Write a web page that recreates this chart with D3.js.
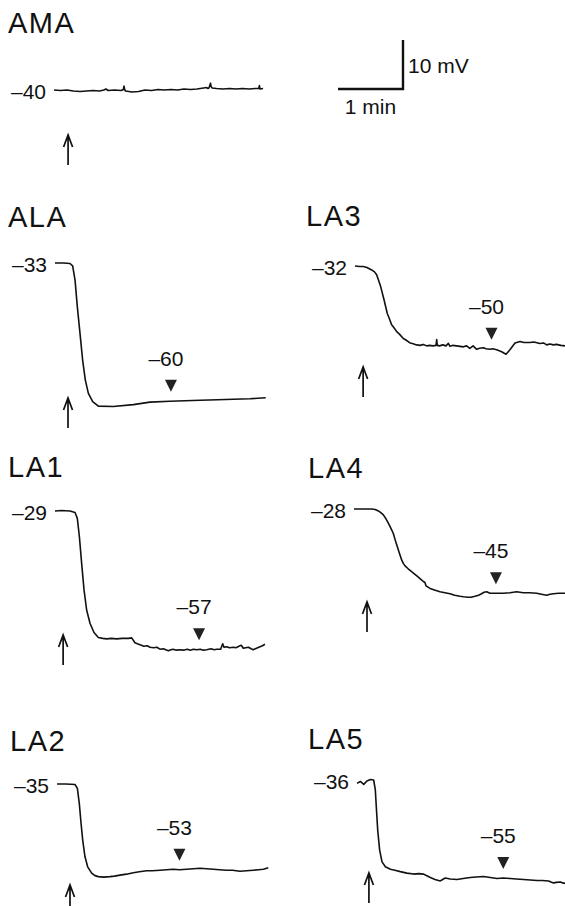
<!DOCTYPE html>
<html>
<head>
<meta charset="utf-8">
<script src="https://cdn.jsdelivr.net/npm/d3@7"></script>
<style>
  body { margin: 0; background: #fff; }
  svg { display: block; }
  text { font-family: "Liberation Sans", Arial, Helvetica, sans-serif; fill: #111; }
  .title { font-size: 29px; letter-spacing: 1.5px; }
  .val { font-size: 21px; }
  .trace { fill: none; stroke: #111; stroke-width: 1.6; stroke-linejoin: round; }
</style>
</head>
<body>
<svg id="chart" width="565" height="906"></svg>
<script>
// recordings: membrane potential (mV) vs time (s) after amino acid application
const panelNames = ['AMA', 'ALA', 'LA3', 'LA1', 'LA4', 'LA2', 'LA5'];
const restValues = [-40, -33, -32, -29, -28, -35, -36]; // resting potential labels
const peakValues = [null, -60, -50, -57, -45, -53, -55]; // labels over the triangles
const peakTimes = [null, 107, 126, 133, 131, 113, 135]; // s, where the triangle sits
const stimTimes = [13, 12, 7.5, 7.5, 12, 12, 11]; // s, arrow = application

const traceAMA = [[0,-40.0],[6,-40.1],[12,-40.0],[18,-40.2],[24,-40.3],[30,-40.2],[36,-40.1],[42,-40.2],[46,-40.0],[48,-39.8],[50,-40.1],[56,-40.0],[62,-40.1],[64,-39.9],[64.6,-39.2],[65.2,-39.9],[66,-40.2],[72,-40.4],[78,-40.3],[84,-40.0],[90,-40.1],[96,-39.9],[102,-40.0],[108,-39.9],[114,-40.0],[120,-39.8],[126,-39.9],[132,-39.8],[138,-39.6],[141,-39.5],[142,-39.7],[143,-39.6],[144.5,-38.6],[145,-39.3],[146,-39.6],[150,-39.7],[156,-39.8],[162,-39.7],[168,-39.8],[174,-39.7],[180,-39.8],[186,-39.7],[189,-39.7],[189.6,-39.1],[190.2,-39.8],[193,-39.7]];
const traceALA = [[0,-33.0],[8,-33.0],[13.8,-33.1],[16.3,-33.6],[18.5,-36.5],[20.6,-41.9],[23.1,-47.4],[25.5,-52.8],[28,-56.9],[30.8,-59.6],[34.8,-61.3],[40,-62.2],[53.8,-62.3],[72.3,-61.9],[87.7,-61.4],[106,-61.2],[120,-61.1],[134,-61.0],[150,-60.9],[164.6,-60.8],[180,-60.7],[194.5,-60.5]];
const traceLA3 = [[0,-32.0],[4,-32.1],[7.7,-32.1],[11,-32.3],[15.4,-32.8],[18,-33.2],[20,-33.8],[23.7,-36.2],[26.8,-38.9],[29.8,-41.7],[31.5,-42.6],[33.8,-44.0],[36,-44.6],[38.5,-45.4],[41,-45.9],[44.6,-46.8],[47,-47.1],[50.8,-47.7],[53,-47.8],[56.9,-48.1],[60,-48.2],[63,-48.0],[66.2,-48.3],[69,-48.2],[72,-48.3],[74.8,-48.2],[75.4,-47.0],[76,-48.2],[78,-48.3],[81,-48.1],[84,-48.3],[86.2,-47.8],[87.7,-48.4],[90,-48.2],[93.8,-48.3],[97,-48.4],[100,-48.5],[103,-48.3],[106,-48.8],[109,-48.3],[112.3,-49.0],[115,-48.8],[118.5,-48.7],[121,-48.9],[124.6,-49.0],[127,-48.9],[130.8,-49.1],[135.4,-49.5],[139.4,-50.0],[143,-49.1],[147.7,-47.7],[152.3,-47.4],[156,-47.6],[161.5,-47.6],[165,-47.5],[170.8,-47.8],[174,-47.7],[176.9,-48.1],[180,-47.9],[183,-48.1],[186,-48.0],[190,-48.2],[193.8,-48.3]];
const traceLA1 = [[0,-29.0],[6,-28.9],[13.8,-29.0],[18.5,-29.3],[20.6,-30.5],[22.5,-34.2],[24.6,-39.7],[26.8,-45.1],[29.2,-49.2],[32.3,-51.9],[36,-53.8],[40,-54.8],[44,-55.0],[47.7,-55.1],[52,-55.0],[56.9,-55.1],[62,-55.0],[67.7,-55.0],[70.8,-54.9],[73.8,-55.9],[76,-56.1],[78.5,-56.3],[82,-56.6],[85,-56.5],[87.7,-56.8],[91,-56.9],[94,-56.8],[96.9,-57.2],[100,-57.1],[104.6,-57.5],[107,-57.3],[109,-57.2],[112,-57.4],[115,-57.3],[118.5,-57.4],[122,-57.2],[125,-57.4],[127.7,-57.2],[131,-57.3],[134,-57.2],[137,-57.4],[140,-57.3],[144,-57.1],[147,-57.3],[149.2,-57.2],[152.9,-57.2],[154.8,-56.1],[156,-56.8],[158.5,-56.7],[161,-56.9],[164.6,-56.8],[167,-56.9],[170.8,-56.5],[172,-56.4],[173.8,-57.0],[176,-56.9],[178.5,-56.8],[181,-57.1],[183,-57.3],[186,-57.0],[189.2,-56.7],[191.5,-56.5],[193.8,-56.2]];
const traceLA4 = [[0,-28.0],[10,-28.0],[16.3,-28.0],[19.5,-28.1],[22.5,-28.4],[25,-28.8],[27.1,-29.2],[29.5,-30.0],[31.7,-30.9],[34,-31.9],[36.3,-33.0],[38,-34.3],[40,-35.7],[42,-37.1],[44,-38.4],[45.5,-39.1],[47.1,-39.6],[50,-40.2],[53.2,-40.8],[56,-41.3],[59.4,-41.9],[62,-42.4],[64,-42.8],[65.5,-43.0],[66.5,-43.7],[70.2,-44.2],[75,-44.6],[79.4,-44.9],[84,-45.1],[88.6,-45.3],[93,-45.6],[97.8,-45.8],[101,-45.9],[105.5,-46.0],[108,-46.0],[111.7,-45.8],[115,-45.6],[117.8,-45.3],[120,-45.0],[122.5,-44.9],[125.5,-45.2],[131,-45.2],[137.8,-45.2],[144,-45.1],[150.1,-44.9],[156.3,-45.1],[162,-45.1],[168.6,-45.2],[173,-45.4],[177.8,-45.6],[181,-45.4],[184,-45.3],[189,-45.2],[194.8,-45.2]];
const traceLA2 = [[0,-35.0],[8,-35.0],[16.6,-35.1],[18.8,-35.9],[20.6,-39.0],[22.2,-43.0],[23.7,-46.4],[25.8,-49.8],[28.3,-51.9],[32,-53.2],[35,-53.7],[38.2,-53.9],[43,-54.0],[48.9,-53.9],[53,-53.8],[58.2,-53.6],[64,-53.4],[70.5,-53.1],[76,-52.9],[82.8,-52.7],[88,-52.7],[95.1,-52.6],[101,-52.5],[107.4,-52.4],[113,-52.5],[119.7,-52.4],[126,-52.3],[132,-52.2],[138,-52.3],[144.3,-52.4],[150,-52.5],[156.6,-52.6],[162,-52.6],[168.9,-52.8],[175,-52.7],[181.2,-52.6],[186,-52.5],[190.5,-52.4],[195,-52.1]];
const traceLA5 = [[0,-36.7],[3.1,-36.3],[6.2,-36.9],[9.2,-36.2],[12.3,-35.9],[15.4,-36.0],[16.9,-38.0],[17.8,-41.4],[19.1,-46.2],[20.9,-50.3],[23.1,-52.7],[26.2,-53.7],[30.8,-54.2],[35,-54.4],[40,-54.7],[46,-55.0],[52.3,-55.2],[57,-55.1],[61.5,-55.2],[64,-55.5],[67.7,-55.9],[72,-56.3],[76.9,-56.6],[79,-56.3],[81.5,-56.0],[86,-56.2],[92.3,-56.3],[98,-56.1],[104.6,-55.9],[110,-55.8],[116.9,-55.7],[123,-55.9],[129.2,-56.1],[135,-56.0],[141.5,-56.1],[147,-56.2],[153.8,-56.3],[160,-56.4],[166.1,-56.5],[171,-56.5],[176.9,-56.6],[179,-56.8],[181.5,-57.0],[184,-56.9],[187.7,-56.8],[190,-57.0],[192.3,-57.1]];
const traces = [traceAMA, traceALA, traceLA3, traceLA1, traceLA4, traceLA2, traceLA5];

// scale bar values
const barTime = 60; // s
const barVolt = 10; // mV

// layout (pixels)
const pxPerSec = 65 / 60;
const pxPerMv = 4.9;
const tMax = 195;
const layout = [ // x,y = where the trace starts; tx,ty = title; ay = arrow tip
  {x: 54, y: 90, tx: 8, ty: 33, ay: 135},
  {x: 55, y: 263, tx: 8, ty: 227, ay: 398},
  {x: 355, y: 266, tx: 306, ty: 226, ay: 367},
  {x: 55, y: 511, tx: 8, ty: 477, ay: 635},
  {x: 354, y: 509, tx: 308, ty: 478, ay: 602},
  {x: 57, y: 784, tx: 10, ty: 751, ay: 885},
  {x: 357, y: 780, tx: 308, ty: 749, ay: 873}
];

const svg = d3.select('#chart');
const bisect = d3.bisector(d => d[0]).left;

panelNames.forEach((name, i) => {
  const L = layout[i];
  const x = d3.scaleLinear().domain([0, tMax]).range([L.x, L.x + tMax * pxPerSec]);
  const y = d3.scaleLinear().domain([restValues[i], restValues[i] - 10]).range([L.y, L.y + 10 * pxPerMv]);
  const g = svg.append('g').attr('class', 'panel');

  g.append('text').attr('class', 'title')
    .attr('x', L.tx).attr('y', L.ty).text(name);

  g.append('text').attr('class', 'val')
    .attr('x', x(0) - 8).attr('y', y(restValues[i]) + 9)
    .attr('text-anchor', 'end')
    .text('\u2013' + Math.abs(restValues[i]));

  g.append('path').attr('class', 'trace')
    .datum(traces[i])
    .attr('d', d3.line().x(d => x(d[0])).y(d => y(d[1])));

  // stimulus arrow
  const ax = x(stimTimes[i]);
  g.append('path')
    .attr('d', `M${ax},${L.ay + 2}V${L.ay + 30}M${ax - 4.5},${L.ay + 12}L${ax},${L.ay}L${ax + 4.5},${L.ay + 12}`)
    .attr('fill', 'none').attr('stroke', '#111').attr('stroke-width', 1.7);

  // steady-state marker + value
  if (peakTimes[i] != null) {
    const tr = traces[i];
    const k = Math.min(bisect(tr, peakTimes[i]), tr.length - 1);
    const mx = x(peakTimes[i]);
    const tip = y(tr[k][1]) - 9;
    g.append('path')
      .attr('d', `M${mx - 6},${tip - 12}L${mx + 6},${tip - 12}L${mx},${tip}Z`)
      .attr('fill', '#222');
    g.append('text').attr('class', 'val')
      .attr('x', mx - 5).attr('y', tip - 26)
      .attr('text-anchor', 'middle')
      .text('\u2013' + Math.abs(peakValues[i]));
  }
});

// scale bar, drawn with the AMA panel scales
const sx = d3.scaleLinear().domain([0, barTime]).range([338, 338 + barTime * pxPerSec]);
const sy = d3.scaleLinear().domain([0, barVolt]).range([89, 89 - barVolt * pxPerMv]);
svg.append('path')
  .attr('d', `M${sx(0)},${sy(0)}H${sx(barTime)}V${sy(barVolt)}`)
  .attr('fill', 'none').attr('stroke', '#111').attr('stroke-width', 2.4);
svg.append('text').attr('class', 'val')
  .attr('x', sx(barTime) + 5).attr('y', 73).text('10 mV');
svg.append('text').attr('class', 'val')
  .attr('x', sx(barTime / 2)).attr('y', 114).attr('text-anchor', 'middle').text('1 min');
</script>
</body>
</html>
